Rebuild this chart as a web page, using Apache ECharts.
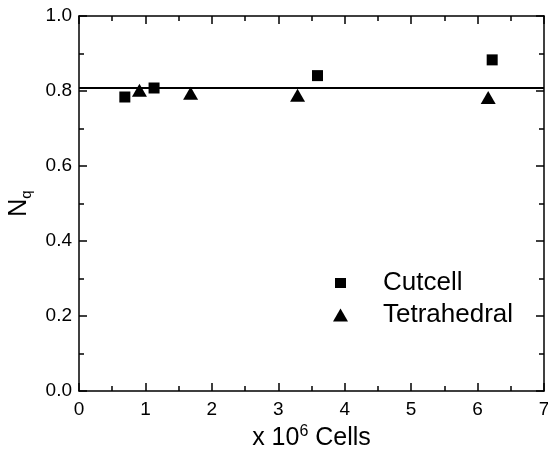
<!DOCTYPE html>
<html>
<head>
<meta charset="utf-8">
<script src="https://cdn.jsdelivr.net/npm/echarts@6/dist/echarts.min.js"></script>
<style>html,body{margin:0;padding:0;background:#fff}#c{width:548px;height:450px}</style>
</head>
<body>
<div id="c"></div>
<script>
// Mesh size (millions of cells) and normalised value N_q
const cutcellX = [0.69, 1.13, 3.59, 6.22];
const cutcellY = [0.784, 0.808, 0.841, 0.883];
const tetraX = [0.91, 1.68, 3.29, 6.16];
const tetraY = [0.802, 0.794, 0.789, 0.783];
const referenceLevel = 0.81;
const seriesNames = ['Cutcell', 'Tetrahedral'];

const FONT = 'Liberation Sans, Arial, sans-serif';
const pairs = (xs, ys) => xs.map((x, i) => [x, ys[i]]);

const stroke = { color: '#000', width: 1.5 };

// Shared frame-axis settings: ticks drawn inward, minor tick halfway between majors
function frameAxis(extra) {
  return Object.assign({
    type: 'value',
    axisLine: { show: true, onZero: false, lineStyle: stroke },
    axisTick: { show: true, inside: true, length: 8, lineStyle: stroke },
    minorTick: { show: true, splitNumber: 2, length: 5, lineStyle: stroke },
    splitLine: { show: false }
  }, extra);
}

const chart = echarts.init(document.getElementById('c'));
chart.setOption({
  animation: false,
  backgroundColor: '#fff',
  grid: { left: 79, right: 4, top: 16, bottom: 59, containLabel: false, outerBoundsMode: 'none' },
  legend: {
    orient: 'vertical',
    left: 328,
    top: 265,
    itemGap: 6,
    itemWidth: 15,
    itemHeight: 13,
    textStyle: { fontFamily: FONT, fontSize: 26, color: '#000', padding: [0, 0, 0, 30] },
    data: [
      { name: seriesNames[0], icon: 'path://M0,0M15,13M2,1.5L13,1.5L13,11.5L2,11.5Z' },
      { name: seriesNames[1], icon: 'triangle' }
    ]
  },
  xAxis: [
    frameAxis({
      min: 0, max: 7, interval: 1, position: 'bottom',
      axisLabel: { fontFamily: FONT, fontSize: 19, color: '#000', margin: 9 },
      name: '{a|x 10}{s|6}{a| Cells}',
      nameLocation: 'middle',
      nameGap: 31,
      nameTextStyle: {
        rich: {
          a: { fontFamily: FONT, fontSize: 25, color: '#000' },
          s: { fontFamily: FONT, fontSize: 16, color: '#000', verticalAlign: 'top', padding: [0, 0, 12, 0] }
        }
      }
    }),
    frameAxis({
      min: 0, max: 7, interval: 1, position: 'top',
      axisLabel: { show: false }
    })
  ],
  yAxis: [
    frameAxis({
      min: 0, max: 1, interval: 0.2, position: 'left',
      axisLabel: { fontFamily: FONT, fontSize: 19, color: '#000', margin: 7, formatter: v => v.toFixed(1) },
      name: '{a|N}{s|q}',
      nameLocation: 'middle',
      nameGap: 45,
      nameRotate: 90,
      nameTextStyle: {
        rich: {
          a: { fontFamily: FONT, fontSize: 25, color: '#000' },
          s: { fontFamily: FONT, fontSize: 15, color: '#000', verticalAlign: 'bottom', padding: [14, 0, 0, 0] }
        }
      }
    }),
    frameAxis({
      min: 0, max: 1, interval: 0.2, position: 'right',
      axisLabel: { show: false }
    })
  ],
  series: [
    {
      name: seriesNames[0], type: 'scatter', symbol: 'rect', symbolSize: 11,
      itemStyle: { color: '#000', opacity: 1 },
      data: pairs(cutcellX, cutcellY),
      markLine: {
        silent: true, symbol: 'none', label: { show: false },
        lineStyle: { color: '#000', width: 2, type: 'solid' },
        data: [{ yAxis: referenceLevel }]
      }
    },
    {
      name: seriesNames[1], type: 'scatter', symbol: 'triangle', symbolSize: [15, 13],
      itemStyle: { color: '#000', opacity: 1 },
      data: pairs(tetraX, tetraY)
    }
  ]
});
</script>
</body>
</html>
